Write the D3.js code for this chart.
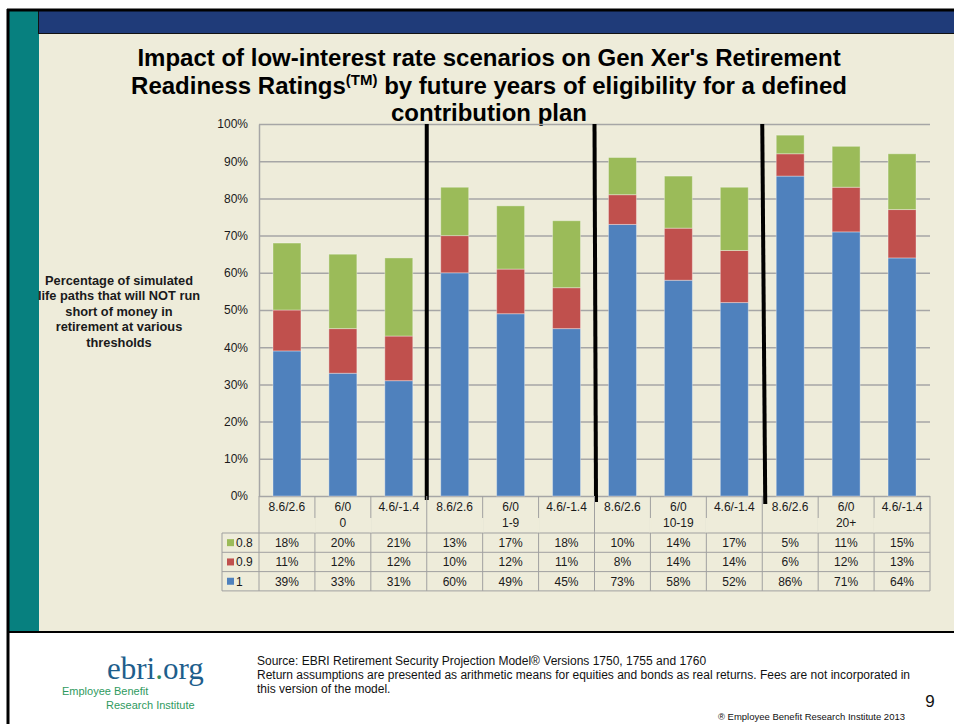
<!DOCTYPE html>
<html>
<head>
<meta charset="utf-8">
<script src="https://cdn.jsdelivr.net/npm/d3@7"></script>
<style>
  html, body { margin: 0; padding: 0; background: #ffffff; }
  svg { display: block; font-family: "Liberation Sans", Arial, sans-serif; }
</style>
</head>
<body>
<svg id="slide" width="954" height="724"></svg>
<script>
// Years of future eligibility (outer category level)
const groups = ["0", "1-9", "10-19", "20+"];
// Return scenarios, equities/bonds (inner category level)
const scenarios = ["8.6/2.6", "6/0", "4.6/-1.4"];
// Readiness thresholds, stacked bottom to top
const seriesKeys = ["1", "0.9", "0.8"];
const seriesColors = ["#4F81BD", "#C0504D", "#9BBB59"];
// Percentages per bar, group by group
const values1   = [39, 33, 31, 60, 49, 45, 73, 58, 52, 86, 71, 64];
const values0_9 = [11, 12, 12, 10, 12, 11,  8, 14, 14,  6, 12, 13];
const values0_8 = [18, 20, 21, 13, 17, 18, 10, 14, 17,  5, 11, 15];
const yTicks = [0, 10, 20, 30, 40, 50, 60, 70, 80, 90, 100];

const categories = [];
groups.forEach(g => scenarios.forEach(s => categories.push({ group: g, scenario: s })));
const rows = categories.map((c, i) => ({
  idx: i, group: c.group, scenario: c.scenario,
  "1": values1[i], "0.9": values0_9[i], "0.8": values0_8[i]
}));

const svg = d3.select("#slide");

// ---- slide frame ----
svg.append("rect").attr("x", 9).attr("y", 11).attr("width", 945).attr("height", 621).attr("fill", "#EEECDA");
svg.append("rect").attr("x", 9).attr("y", 11).attr("width", 30).attr("height", 621).attr("fill", "#07807F");
svg.append("rect").attr("x", 39).attr("y", 11).attr("width", 915).attr("height", 22).attr("fill", "#1F3B79");
svg.append("line").attr("x1", 39).attr("x2", 954).attr("y1", 33.5).attr("y2", 33.5).attr("stroke", "#111").attr("stroke-width", 1);
svg.append("line").attr("x1", 38.5).attr("x2", 38.5).attr("y1", 11).attr("y2", 34).attr("stroke", "#111").attr("stroke-width", 1);
svg.append("line").attr("x1", 7).attr("x2", 954).attr("y1", 10).attr("y2", 10).attr("stroke", "#000").attr("stroke-width", 3);
svg.append("line").attr("x1", 8).attr("x2", 8).attr("y1", 9).attr("y2", 724).attr("stroke", "#000").attr("stroke-width", 3);
svg.append("line").attr("x1", 9).attr("x2", 954).attr("y1", 632).attr("y2", 632).attr("stroke", "#000").attr("stroke-width", 2);

// ---- title ----
const title = svg.append("text").attr("text-anchor", "middle")
  .attr("font-weight", "bold").attr("font-size", 24).attr("fill", "#000");
title.append("tspan").attr("x", 489).attr("y", 66).text("Impact of low-interest rate scenarios on Gen Xer's Retirement");
const t2 = title.append("tspan").attr("x", 489).attr("y", 94);
t2.append("tspan").text("Readiness Ratings");
t2.append("tspan").attr("font-size", 15).attr("dy", -9).text("(TM)");
t2.append("tspan").attr("dy", 9).text(" by future years of eligibility for a defined");
title.append("tspan").attr("x", 489).attr("y", 121).text("contribution plan");

// ---- scales ----
const plotLeft = 259, plotRight = 930, plotTop = 124, plotBottom = 496;
const x = d3.scaleBand().domain(rows.map(d => d.idx)).range([plotLeft, plotRight])
  .paddingInner(0.5).paddingOuter(0.25);
const y = d3.scaleLinear().domain([0, 100]).range([plotBottom, plotTop]);
const step = x.step();
const edge = i => plotLeft + i * step;   // boundary before category i

// ---- gridlines + y axis ----
const yAxis = svg.append("g").attr("transform", `translate(${plotLeft},0)`)
  .call(d3.axisLeft(y).tickValues(yTicks).tickFormat(d => d + "%")
    .tickSize(-(plotRight - plotLeft)).tickSizeOuter(0).tickPadding(11));
yAxis.select(".domain").attr("stroke", "#A6A6A6").attr("stroke-width", 1.5);
yAxis.selectAll(".tick line").attr("stroke", "#A6A6A6").attr("stroke-width", 1.5);
yAxis.selectAll(".tick text").attr("font-size", 12).attr("fill", "#1a1a1a")
  .attr("font-family", "'Liberation Sans', Arial, sans-serif");

// ---- stacked bars ----
const stacked = d3.stack().keys(seriesKeys)(rows);
svg.append("g").selectAll("g").data(stacked).join("g")
  .attr("fill", (d, i) => seriesColors[i])
  .selectAll("rect").data(d => d).join("rect")
  .attr("x", d => x(d.data.idx))
  .attr("width", x.bandwidth())
  .attr("y", d => y(d[1]))
  .attr("height", d => y(d[0]) - y(d[1]))
  .attr("stroke", "rgba(255,255,255,0.35)").attr("stroke-width", 1);

// ---- group dividers ----
svg.append("g").selectAll("line").data([1, 2, 3]).join("line")
  .attr("x1", g => edge(g * scenarios.length)).attr("x2", g => edge(g * scenarios.length) + (g - 1) * 1.5)
  .attr("y1", plotTop).attr("y2", g => plotBottom + 2 + g * 2)
  .attr("stroke", "#000").attr("stroke-width", 4);

// ---- data table ----
const tableLeft = 222;
const rCatTop = plotBottom, rCatBot = 515, rGrpBot = 533;
const rowH = 19.3;
const dataTop = rGrpBot;
const tableBottom = dataTop + rowH * 3;
const grid = svg.append("g").attr("stroke", "#A0A0A0").attr("stroke-width", 1).attr("fill", "none");

// category-level separators
d3.range(1, categories.length).forEach(i => {
  grid.append("line").attr("x1", edge(i)).attr("x2", edge(i))
    .attr("y1", rCatTop).attr("y2", tableBottom);
});
// outer edges of header rows
grid.append("line").attr("x1", plotLeft).attr("x2", plotLeft).attr("y1", rCatTop).attr("y2", tableBottom);
grid.append("line").attr("x1", plotRight).attr("x2", plotRight).attr("y1", rCatTop).attr("y2", tableBottom);
// horizontal row lines
[0, 1, 2, 3].forEach(r => {
  grid.append("line").attr("x1", tableLeft).attr("x2", plotRight)
    .attr("y1", dataTop + r * rowH).attr("y2", dataTop + r * rowH);
});
grid.append("line").attr("x1", tableLeft).attr("x2", tableLeft).attr("y1", dataTop).attr("y2", tableBottom);

// only group boundaries cross the group-label row
d3.range(1, categories.length).filter(i => i % scenarios.length !== 0).forEach(i => {
  svg.append("rect").attr("x", edge(i) - 1).attr("y", rCatBot + 3).attr("width", 2).attr("height", rGrpBot - rCatBot - 3.5)
    .attr("fill", "#EEECDA");
});

const tableText = svg.append("g").attr("font-size", 12).attr("fill", "#1a1a1a").attr("text-anchor", "middle");
rows.forEach(d => {
  tableText.append("text").attr("x", x(d.idx) + x.bandwidth() / 2).attr("y", 511).text(d.scenario);
});
groups.forEach((g, gi) => {
  const cx = (edge(gi * scenarios.length) + edge((gi + 1) * scenarios.length)) / 2;
  tableText.append("text").attr("x", cx).attr("y", 527).text(g);
});
// rows listed top to bottom: 0.8, 0.9, 1
const tableRows = [
  { key: "0.8", color: seriesColors[2], vals: values0_8 },
  { key: "0.9", color: seriesColors[1], vals: values0_9 },
  { key: "1",   color: seriesColors[0], vals: values1 }
];
tableRows.forEach((r, ri) => {
  const cy = dataTop + ri * rowH + rowH / 2;
  svg.append("rect").attr("x", 227).attr("y", cy - 3.5).attr("width", 7).attr("height", 7).attr("fill", r.color);
  svg.append("text").attr("x", 236).attr("y", cy + 4.5).attr("font-size", 12).attr("fill", "#1a1a1a").text(r.key);
  r.vals.forEach((v, i) => {
    tableText.append("text").attr("x", x(i) + x.bandwidth() / 2).attr("y", cy + 4.5).text(v + "%");
  });
});

// ---- y axis title ----
const yTitle = svg.append("text").attr("text-anchor", "middle").attr("font-weight", "bold")
  .attr("font-size", 12.8).attr("fill", "#1a1a1a");
["Percentage of simulated", "life paths that will NOT run", "short of money in",
 "retirement at various", "thresholds"].forEach((line, i) => {
  yTitle.append("tspan").attr("x", 119).attr("y", 285 + i * 15.4).text(line);
});

// ---- footer ----
const logo = svg.append("text").attr("x", 107).attr("y", 679)
  .attr("font-family", "'Liberation Serif', 'DejaVu Serif', serif").attr("font-size", 31).attr("fill", "#1E5E8C");
logo.append("tspan").text("ebri");
logo.append("tspan").attr("fill", "#2F8C5C").text(".");
logo.append("tspan").text("org");
svg.append("text").attr("x", 62).attr("y", 695).attr("font-size", 11).attr("fill", "#2E9A5E")
  .text("Employee Benefit");
svg.append("text").attr("x", 106).attr("y", 709).attr("font-size", 11).attr("fill", "#2E9A5E")
  .text("Research Institute");

const src = svg.append("g").attr("font-size", 12).attr("fill", "#111");
src.append("text").attr("x", 257).attr("y", 665)
  .text("Source: EBRI Retirement Security Projection Model\u00AE Versions 1750, 1755 and 1760");
src.append("text").attr("x", 257).attr("y", 679)
  .text("Return assumptions are presented as arithmetic means for equities and bonds as real returns. Fees are not incorporated in");
src.append("text").attr("x", 257).attr("y", 693).text("this version of the model.");

svg.append("text").attr("x", 930).attr("y", 707).attr("text-anchor", "middle").attr("font-size", 17).attr("fill", "#111").text("9");
svg.append("text").attr("x", 905).attr("y", 720).attr("text-anchor", "end").attr("font-size", 9.5).attr("fill", "#111")
  .text("\u00AE Employee Benefit Research Institute 2013");
</script>
</body>
</html>
